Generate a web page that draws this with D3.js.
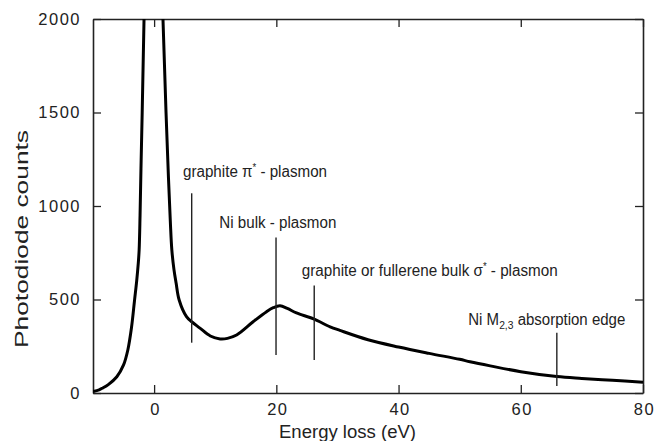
<html>
<head>
    <script src="https://d3js.org/d3.v7.min.js" charset="utf-8"></script>
    <style>
        body { margin: 0; background: #fff; }
        text { font-family: "Liberation Sans", Arial, sans-serif; fill: #222; }
    </style>
</head>
<body>
    <script>
        // spectrum
        var energy = [-10, -9, -8.4, -7.5, -6.1, -5, -4.3, -3.7, -3.2, -2.85, -2.6, -2.45, -2.3, -2.15, -1.95, -1.65, -0.8, 0, 0.7, 1.45, 1.95, 2.35, 2.65, 2.9, 3.25, 3.6, 4.1, 5.3, 6.15, 7.5, 9.2, 10.8, 12, 13.5, 16.2, 18.4, 19.5, 20.6, 21.8, 23.3, 26.1, 28.8, 30.4, 35, 40, 45, 50, 51.7, 55, 60, 65.9, 70, 75, 80];
        var counts = [8, 17, 27, 45, 87, 150, 230, 350, 497, 600, 690, 765, 950, 1200, 1500, 2000, 2900, 3300, 2900, 2000, 1500, 1150, 920, 765, 660, 588, 497, 408, 381, 347, 305, 289, 292, 310, 381, 435, 456, 466, 452, 428, 396, 354, 335, 285, 246, 212, 180, 167, 145, 114, 88, 78, 68, 57];

        var xTicks = [0, 20, 40, 60, 80];
        var yTicks = [0, 500, 1000, 1500, 2000];

        // annotations: line at eV from count lo to hi, label anchored at (labelEv, labelCount)
        var annText = ["graphite \u03C0|* - plasmon", "Ni bulk - plasmon", "graphite or fullerene bulk \u03C3|* - plasmon", "Ni M_2,3_ absorption edge"];
        var annEv = [6.15, 19.95, 26.2, 65.9];
        var annLo = [269, 203, 176, 37];
        var annHi = [1068, 831, 575, 322];
        var labelEv = [4.73, 10.67, 24.15, 51.41];
        var labelCount = [1155, 881, 626, 364];
        var labelWidth = [144, 117, 256, 157];

        var width = 666, height = 441;
        var pl = 93, pr = 643, pt = 19, pb = 393;

        var svg = d3.select("body").append("svg").attr("width", width).attr("height", height);

        var x = d3.scaleLinear().domain([-10, 80]).range([pl, pr]);
        var y = d3.scaleLinear().domain([0, 2000]).range([pb, pt]);

        svg.append("clipPath").attr("id", "plot")
            .append("rect").attr("x", pl).attr("y", pt).attr("width", pr - pl).attr("height", pb - pt);

        // the four sides, ticks pointing in
        function styleAxis(g) {
            g.select(".domain").attr("stroke", "#222").attr("stroke-width", 1.6);
            g.selectAll(".tick line").attr("stroke", "#222").attr("stroke-width", 1.3);
            g.selectAll(".tick text").attr("font-size", "16.5px").attr("letter-spacing", "1.5px").attr("fill", "#222");
        }

        svg.append("g").attr("transform", "translate(0," + pb + ")")
            .call(d3.axisBottom(x).tickValues(xTicks).tickSize(-8).tickPadding(10).tickSizeOuter(0))
            .call(styleAxis)
            .selectAll(".tick text").attr("dx", "1px").attr("dy", "0.75em");

        svg.append("g").attr("transform", "translate(0," + pt + ")")
            .call(d3.axisTop(x).tickValues(xTicks).tickSize(-8).tickFormat("").tickSizeOuter(0))
            .call(styleAxis);

        svg.append("g").attr("transform", "translate(" + pl + ",0)")
            .call(d3.axisLeft(y).tickValues(yTicks).tickFormat(d3.format("d")).tickSize(-8).tickPadding(14).tickSizeOuter(0))
            .call(styleAxis)
            .selectAll(".tick text").attr("dx", "2px");

        svg.append("g").attr("transform", "translate(" + pr + ",0)")
            .call(d3.axisRight(y).tickValues(yTicks).tickSize(-8).tickFormat("").tickSizeOuter(0))
            .call(styleAxis);

        // spectrum
        var line = d3.line()
            .x(function(d, i) { return x(energy[i]); })
            .y(function(d) { return y(d); })
            .curve(d3.curveCatmullRom.alpha(0.5));

        svg.append("path").datum(counts)
            .attr("clip-path", "url(#plot)")
            .attr("d", line)
            .attr("fill", "none")
            .attr("stroke", "#000")
            .attr("stroke-width", 3)
            .attr("stroke-linejoin", "round");

        // annotation lines
        svg.selectAll(".ann").data(annEv).enter().append("line")
            .attr("class", "ann")
            .attr("x1", function(d) { return x(d); })
            .attr("x2", function(d) { return x(d); })
            .attr("y1", function(d, i) { return y(annLo[i]); })
            .attr("y2", function(d, i) { return y(annHi[i]); })
            .attr("stroke", "#222")
            .attr("stroke-width", 1.4);

        // annotation labels, "|*" marks a superscript star, "_.._" a subscript
        annText.forEach(function(t, i) {
            var txt = svg.append("text")
                .attr("x", x(labelEv[i]))
                .attr("y", y(labelCount[i]))
                .attr("font-size", "16px")
                .attr("textLength", labelWidth[i])
                .attr("lengthAdjust", "spacingAndGlyphs");
            if (t.indexOf("|*") >= 0) {
                var p = t.split("|*");
                txt.append("tspan").text(p[0]);
                txt.append("tspan").attr("font-size", "10px").attr("dy", "-6").text("*");
                txt.append("tspan").attr("dy", "6").text(p[1]);
            } else if (t.indexOf("_") >= 0) {
                var q = t.split("_");
                txt.append("tspan").text(q[0]);
                txt.append("tspan").attr("font-size", "11px").attr("dy", "4").text(q[1]);
                txt.append("tspan").attr("dy", "-4").text(q[2]);
            } else {
                txt.text(t);
            }
        });

        // axis titles
        svg.append("text")
            .attr("x", 279).attr("y", 438)
            .attr("font-size", "17.5px")
            .attr("textLength", 137).attr("lengthAdjust", "spacingAndGlyphs")
            .text("Energy loss (eV)");

        svg.append("text")
            .attr("transform", "translate(28,239) rotate(-90)")
            .attr("text-anchor", "middle")
            .attr("font-size", "18px")
            .attr("textLength", 218).attr("lengthAdjust", "spacingAndGlyphs")
            .text("Photodiode counts");
    </script>
</body>
</html>
